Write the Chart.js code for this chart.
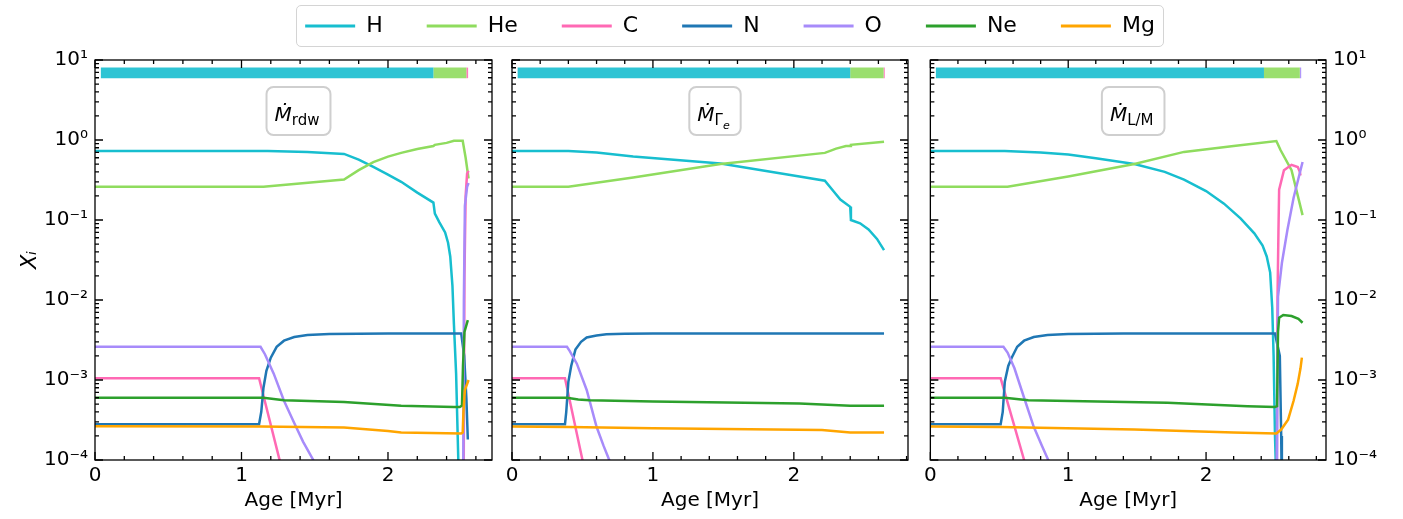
<!DOCTYPE html>
<html>
<head>
<meta charset="utf-8">
<script src="https://cdn.jsdelivr.net/npm/chart.js@4.4.1/dist/chart.umd.min.js"></script>
<style>
  body { margin: 0; background: #fff; width: 1403px; height: 519px; position: relative; overflow: hidden; }
  canvas { position: absolute; }
  #legendBox { position: absolute; left: 296px; top: 5px; width: 866px; height: 40px;
               border: 1.5px solid #d4d4d4; border-radius: 5px; }
</style>
</head>
<body>
<div id="legendBox"></div>
<canvas id="legend" width="1060" height="220" style="left:200px;top:-29px"></canvas>
<canvas id="c1" width="500" height="519" style="left:0;top:0"></canvas>
<canvas id="c2" width="420" height="519" style="left:500px;top:0"></canvas>
<canvas id="c3" width="483" height="519" style="left:920px;top:0"></canvas>
<script>
// elements and colours
const elements = ['H', 'He', 'C', 'N', 'O', 'Ne', 'Mg'];
const colors = ['#17becf', '#8fdc5e', '#ff69b4', '#1f77b4', '#a78bfa', '#2ca02c', '#ffa500'];

// axis ticks
const xTicks = [0, 1, 2];
const yTicks = [1e-4, 1e-3, 1e-2, 1e-1, 1, 10];
const yTickLabels = ['10⁻⁴', '10⁻³', '10⁻²', '10⁻¹', '10⁰', '10¹'];
const xMax = [2.71, 2.81, 2.87];

// burning phase bar (age boundaries), drawn at this abundance level
const barLevel = 6.9;
const rdwPhases = [0.04, 2.31, 2.535, 2.547];
const gamPhases = [0.04, 2.40, 2.637, 2.645];
const lmPhases = [0.04, 2.42, 2.68, 2.69];
const rdwPhaseColors = ['rgba(23,190,207,0.9)', 'rgba(143,220,94,0.9)', 'rgba(255,105,180,0.9)'];
const gamPhaseColors = ['rgba(23,190,207,0.9)', 'rgba(143,220,94,0.9)', 'rgba(255,105,180,0.9)'];
const lmPhaseColors = ['rgba(23,190,207,0.9)', 'rgba(143,220,94,0.9)', 'rgba(167,139,250,0.9)'];

// ---- panel 1: Mdot rdw  [age Myr, X]
const rdwH = [[0,0.73],[1.18,0.73],[1.45,0.71],[1.70,0.67],[1.80,0.57],[1.90,0.46],[2.00,0.37],[2.09,0.30],[2.20,0.22],[2.31,0.165],[2.32,0.12],[2.35,0.094],[2.39,0.07],[2.41,0.052],[2.425,0.035],[2.44,0.015],[2.45,0.005],[2.465,0.0012],[2.48,1e-4],[2.49,3e-5]];
const rdwHe = [[0,0.26],[1.15,0.26],[1.70,0.32],[1.80,0.42],[1.90,0.53],[2.00,0.62],[2.09,0.69],[2.20,0.77],[2.31,0.84],[2.32,0.87],[2.40,0.92],[2.45,0.98],[2.51,0.98],[2.53,0.6],[2.55,0.33]];
const rdwC = [[0,1.05e-3],[1.12,1.05e-3],[1.26,1e-4],[1.30,1e-5],[2.50,1e-6],[2.515,1e-5],[2.522,0.02],[2.53,0.2],[2.54,0.38],[2.55,0.41]];
const rdwN = [[0,2.8e-4],[1.12,2.8e-4],[1.135,4e-4],[1.15,8e-4],[1.17,1.3e-3],[1.20,1.9e-3],[1.24,2.6e-3],[1.29,3.1e-3],[1.36,3.45e-3],[1.45,3.65e-3],[1.6,3.75e-3],[2.0,3.8e-3],[2.50,3.8e-3],[2.52,2e-3],[2.535,6e-4],[2.545,1.8e-4]];
const rdwO = [[0,2.6e-3],[1.13,2.6e-3],[1.16,2.1e-3],[1.22,1.2e-3],[1.29,5.5e-4],[1.36,2.9e-4],[1.42,1.7e-4],[1.49,1e-4],[1.55,5e-5],[2.50,1e-6],[2.512,1e-5],[2.518,0.01],[2.525,0.15],[2.54,0.26],[2.55,0.29]];
const rdwNe = [[0,6.0e-4],[1.15,6.0e-4],[1.29,5.6e-4],[1.70,5.3e-4],[2.09,4.75e-4],[2.45,4.6e-4],[2.49,4.6e-4],[2.505,4.8e-4],[2.512,1.5e-3],[2.522,4e-3],[2.545,5.6e-3]];
const rdwMg = [[0,2.65e-4],[1.13,2.62e-4],[1.70,2.55e-4],[2.0,2.3e-4],[2.09,2.2e-4],[2.50,2.15e-4],[2.51,2.2e-4],[2.515,4e-4],[2.525,7.5e-4],[2.55,1.0e-3]];

// ---- panel 2: Mdot Gamma_e
const gamH = [[0,0.73],[0.40,0.73],[0.6,0.70],[0.86,0.62],[1.48,0.51],[2.04,0.35],[2.22,0.31],[2.28,0.23],[2.33,0.18],[2.40,0.146],[2.405,0.10],[2.47,0.091],[2.53,0.076],[2.59,0.058],[2.64,0.042]];
const gamHe = [[0,0.26],[0.40,0.26],[0.86,0.34],[1.48,0.50],[2.22,0.69],[2.30,0.78],[2.37,0.84],[2.40,0.84],[2.405,0.87],[2.64,0.95]];
const gamC = [[0,1.05e-3],[0.376,1.05e-3],[0.50,1e-4],[0.53,5e-5]];
const gamN = [[0,2.8e-4],[0.376,2.8e-4],[0.385,4e-4],[0.40,9.5e-4],[0.42,1.5e-3],[0.45,2.4e-3],[0.49,3.0e-3],[0.53,3.4e-3],[0.60,3.6e-3],[0.67,3.72e-3],[0.8,3.78e-3],[1.0,3.8e-3],[2.64,3.8e-3]];
const gamO = [[0,2.6e-3],[0.39,2.6e-3],[0.41,2.3e-3],[0.46,1.6e-3],[0.53,7.5e-4],[0.60,2.6e-4],[0.65,1.5e-4],[0.69,1e-4],[0.72,6e-5]];
const gamNe = [[0,6.0e-4],[0.39,6.0e-4],[0.47,5.7e-4],[0.55,5.6e-4],[1.0,5.4e-4],[2.04,5.1e-4],[2.40,4.75e-4],[2.64,4.75e-4]];
const gamMg = [[0,2.62e-4],[0.40,2.58e-4],[1.0,2.5e-4],[2.2,2.37e-4],[2.40,2.2e-4],[2.64,2.2e-4]];

// ---- panel 3: Mdot L/M
const lmH = [[0,0.73],[0.54,0.73],[0.8,0.70],[1.0,0.66],[1.2,0.59],[1.48,0.50],[1.7,0.40],[1.84,0.32],[2.0,0.23],[2.13,0.16],[2.25,0.105],[2.35,0.068],[2.41,0.048],[2.44,0.035],[2.465,0.022],[2.48,0.008],[2.49,0.002],[2.50,2e-4],[2.51,5e-5]];
const lmHe = [[0,0.26],[0.56,0.26],[1.0,0.35],[1.48,0.50],[1.84,0.71],[2.20,0.84],[2.51,0.97],[2.54,0.75],[2.62,0.42],[2.70,0.115]];
const lmC = [[0,1.05e-3],[0.51,1.05e-3],[0.68,1e-4],[0.72,4e-5],[2.50,1e-6],[2.512,1e-5],[2.518,0.01],[2.525,0.07],[2.53,0.24],[2.565,0.42],[2.62,0.49],[2.665,0.46],[2.68,0.40],[2.685,0.36]];
const lmN = [[0,2.8e-4],[0.51,2.8e-4],[0.525,4e-4],[0.54,9.5e-4],[0.565,1.5e-3],[0.59,1.9e-3],[0.63,2.6e-3],[0.68,3.1e-3],[0.75,3.45e-3],[0.85,3.65e-3],[1.0,3.75e-3],[1.4,3.8e-3],[2.50,3.8e-3],[2.535,2e-3],[2.545,2e-4],[2.55,3e-5]];
const lmO = [[0,2.6e-3],[0.53,2.6e-3],[0.56,2.2e-3],[0.61,1.4e-3],[0.68,6e-4],[0.75,2.6e-4],[0.81,1.5e-4],[0.855,1e-4],[0.9,5e-5],[2.50,1e-6],[2.512,1e-5],[2.517,1e-3],[2.522,0.011],[2.55,0.029],[2.59,0.075],[2.635,0.19],[2.70,0.53]];
const lmNe = [[0,6.0e-4],[0.54,6.0e-4],[0.71,5.6e-4],[1.72,5.2e-4],[2.3,4.7e-4],[2.50,4.6e-4],[2.515,4.7e-4],[2.522,4e-3],[2.53,6.0e-3],[2.56,6.5e-3],[2.62,6.3e-3],[2.67,5.8e-3],[2.70,5.2e-3]];
const lmMg = [[0,2.62e-4],[0.5,2.58e-4],[1.48,2.4e-4],[2.2,2.2e-4],[2.51,2.15e-4],[2.545,2.4e-4],[2.595,3.2e-4],[2.635,5.5e-4],[2.665,9e-4],[2.685,1.4e-3],[2.695,1.9e-3]];

Chart.defaults.font.family = '"DejaVu Sans", sans-serif';
Chart.defaults.color = '#000';

// inward ticks on all four sides + black frame
const framePlugin = {
  id: 'frame',
  afterDraw(chart) {
    const {ctx, chartArea: a, scales: {x, y}} = chart;
    ctx.save();
    ctx.strokeStyle = '#000';
    ctx.lineWidth = 1.3;
    ctx.strokeRect(a.left, a.top, a.right - a.left, a.bottom - a.top);
    ctx.beginPath();
    for (let k = 0; k * 0.2 <= x.max; k++) {
      const px = x.getPixelForValue(k * 0.2);
      const len = k % 5 === 0 ? 8 : 4;
      ctx.moveTo(px, a.bottom); ctx.lineTo(px, a.bottom - len);
      ctx.moveTo(px, a.top); ctx.lineTo(px, a.top + len);
    }
    for (let e = -4; e <= 1; e++) {
      for (let m = 1; m <= 9; m++) {
        const v = m * Math.pow(10, e);
        if (v > 10) break;
        const py = y.getPixelForValue(v);
        const len = m === 1 ? 8 : 4;
        ctx.moveTo(a.left, py); ctx.lineTo(a.left + len, py);
        ctx.moveTo(a.right, py); ctx.lineTo(a.right - len, py);
      }
    }
    ctx.stroke();
    ctx.restore();
  }
};

// rounded label box with the mass-loss recipe
const tagPlugin = {
  id: 'tag',
  afterDatasetsDraw(chart, args, opts) {
    const {ctx, chartArea: a} = chart;
    const parts = [{t: 'Ṁ', f: 'italic 20px "DejaVu Sans"', dy: 0}].concat(opts.sub);
    ctx.save();
    let w = 0;
    parts.forEach(p => { ctx.font = p.f; p.w = ctx.measureText(p.t).width; w += p.w; });
    const cx = (a.left + a.right) / 2 + 5;
    const bw = w + 19, bh = 48, bx = cx - bw / 2, by = a.top + 27;
    ctx.beginPath();
    ctx.roundRect(bx, by, bw, bh, 7);
    ctx.fillStyle = 'rgba(255,255,255,0.8)';
    ctx.fill();
    ctx.lineWidth = 2;
    ctx.strokeStyle = '#cfcfcf';
    ctx.stroke();
    ctx.fillStyle = '#000';
    ctx.textBaseline = 'alphabetic';
    let tx = bx + 8;
    parts.forEach(p => { ctx.font = p.f; ctx.fillText(p.t, tx, by + 34 + p.dy); tx += p.w; });
    ctx.restore();
  }
};

function lineSet(name, pts, i) {
  return {
    label: name,
    data: pts.map(p => ({x: p[0], y: p[1]})),
    borderColor: colors[i],
    backgroundColor: colors[i],
    borderWidth: 2.5,
    pointRadius: 0,
    tension: 0,
    order: 20 - i
  };
}

function phaseSets(phases, phaseColors) {
  const sets = [];
  for (let i = 0; i < phases.length - 1; i++) {
    sets.push({
      label: 'phase' + i,
      data: [{x: phases[i], y: barLevel}, {x: phases[i + 1], y: barLevel}],
      borderColor: phaseColors[i],
      borderWidth: 10.6,
      borderCapStyle: 'butt',
      pointRadius: 0,
      order: 0
    });
  }
  return sets;
}

function makePanel(id, series, phases, phaseColors, xmax, sub, cfg) {
  const datasets = series.map((s, i) => lineSet(elements[i], s, i)).concat(phaseSets(phases, phaseColors));
  const scales = {
    x: {
      type: 'linear', min: 0, max: xmax,
      grid: {display: false, drawTicks: false},
      border: {display: false},
      afterBuildTicks: s => { s.ticks = xTicks.map(v => ({value: v})); },
      afterFit: s => { s.height = 59; },
      ticks: {font: {size: 20}, padding: 4, maxRotation: 0},
      title: {display: true, text: 'Age [Myr]', font: {size: 20}, padding: {top: 0, bottom: 6}}
    },
    y: {
      type: 'logarithmic', min: 1e-4, max: 10,
      grid: {display: false, drawTicks: false},
      border: {display: false},
      afterBuildTicks: s => { s.ticks = yTicks.map(v => ({value: v})); },
      afterFit: s => { s.width = cfg.leftWidth; },
      ticks: {display: cfg.leftLabels, font: {size: 20}, padding: 7, autoSkip: false,
               callback: (v, i) => yTickLabels[i]},
      title: {display: cfg.leftLabels, text: 'Xᵢ', font: {size: 21, style: 'italic'}, padding: {top: 18, bottom: 0}}
    }
  };
  if (cfg.rightLabels) {
    scales.y2 = {
      type: 'logarithmic', position: 'right', min: 1e-4, max: 10,
      grid: {display: false, drawTicks: false},
      border: {display: false},
      afterBuildTicks: s => { s.ticks = yTicks.map(v => ({value: v})); },
      afterFit: s => { s.width = cfg.rightWidth; },
      ticks: {font: {size: 20}, padding: 7, autoSkip: false, callback: (v, i) => yTickLabels[i]}
    };
  }
  return new Chart(document.getElementById(id), {
    type: 'line',
    data: {datasets: datasets},
    options: {
      responsive: false,
      animation: false,
      layout: {padding: {top: 60, bottom: 0, left: 0, right: cfg.padRight}},
      plugins: {legend: {display: false}, tooltip: {enabled: false}, tag: {sub: sub}},
      scales: scales
    },
    plugins: [framePlugin, tagPlugin]
  });
}

makePanel('c1', [rdwH, rdwHe, rdwC, rdwN, rdwO, rdwNe, rdwMg], rdwPhases, rdwPhaseColors, xMax[0],
  [{t: 'rdw', f: '15px "DejaVu Sans"', dy: 4}],
  {leftWidth: 95, leftLabels: true, padRight: 8});

makePanel('c2', [gamH, gamHe, gamC, gamN, gamO, gamNe, gamMg], gamPhases, gamPhaseColors, xMax[1],
  [{t: 'Γ', f: '15px "DejaVu Sans"', dy: 4}, {t: 'e', f: 'italic 11px "DejaVu Sans"', dy: 8}],
  {leftWidth: 12, leftLabels: false, padRight: 12});

makePanel('c3', [lmH, lmHe, lmC, lmN, lmO, lmNe, lmMg], lmPhases, lmPhaseColors, xMax[2],
  [{t: 'L/M', f: '15px "DejaVu Sans"', dy: 4}],
  {leftWidth: 9, leftLabels: false, rightLabels: true, rightWidth: 77, padRight: 0});

// shared legend
new Chart(document.getElementById('legend'), {
  type: 'line',
  data: {
    datasets: elements.map((el, i) => ({label: el, data: [], backgroundColor: colors[i], borderColor: colors[i], borderWidth: 0}))
  },
  options: {
    responsive: false,
    animation: false,
    layout: {padding: 0},
    scales: {x: {display: false}, y: {display: false}},
    plugins: {
      tooltip: {enabled: false},
      legend: {
        display: true,
        position: 'top',
        labels: {font: {size: 22}, boxWidth: 50, boxHeight: 3, padding: 44, color: '#000'}
      }
    }
  }
});
</script>
</body>
</html>
